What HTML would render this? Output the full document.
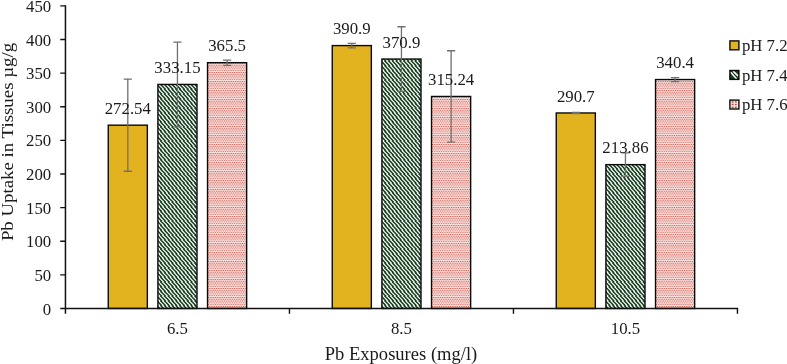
<!DOCTYPE html>
<html><head><meta charset="utf-8"><title>Pb Uptake in Tissues</title>
<style>
html,body{margin:0;padding:0;background:#fff;}
body{width:787px;height:364px;overflow:hidden;}
svg{display:block;}
text{font-family:"Liberation Serif","Times New Roman",serif;fill:#1a1a1a;}
</style></head><body>
<svg width="787" height="364" viewBox="0 0 787 364">
<defs>
<pattern id="hatch" width="38" height="47" patternUnits="userSpaceOnUse">
<rect width="38" height="47" fill="#ffffff"/><path d="M-7.60 0.00L-5.50 0.00L-0.80 4.70L-2.90 4.70ZM-3.80 0.00L-1.70 0.00L3.00 4.70L0.90 4.70ZM0.00 0.00L2.10 0.00L6.80 4.70L4.70 4.70ZM3.80 0.00L5.90 0.00L10.60 4.70L8.50 4.70ZM7.60 0.00L9.70 0.00L14.40 4.70L12.30 4.70ZM11.40 0.00L13.50 0.00L18.20 4.70L16.10 4.70ZM15.20 0.00L17.30 0.00L22.00 4.70L19.90 4.70ZM19.00 0.00L21.10 0.00L25.80 4.70L23.70 4.70ZM22.80 0.00L24.90 0.00L29.60 4.70L27.50 4.70ZM26.60 0.00L28.70 0.00L33.40 4.70L31.30 4.70ZM30.40 0.00L32.50 0.00L37.20 4.70L35.10 4.70ZM34.20 0.00L36.30 0.00L41.00 4.70L38.90 4.70ZM38.00 0.00L40.10 0.00L44.80 4.70L42.70 4.70ZM-7.60 4.70L-5.50 4.70L-0.80 9.40L-2.90 9.40ZM-3.80 4.70L-1.70 4.70L3.00 9.40L0.90 9.40ZM0.00 4.70L2.10 4.70L6.80 9.40L4.70 9.40ZM3.80 4.70L5.90 4.70L10.60 9.40L8.50 9.40ZM7.60 4.70L9.70 4.70L14.40 9.40L12.30 9.40ZM11.40 4.70L13.50 4.70L18.20 9.40L16.10 9.40ZM15.20 4.70L17.30 4.70L22.00 9.40L19.90 9.40ZM19.00 4.70L21.10 4.70L25.80 9.40L23.70 9.40ZM22.80 4.70L24.90 4.70L29.60 9.40L27.50 9.40ZM26.60 4.70L28.70 4.70L33.40 9.40L31.30 9.40ZM30.40 4.70L32.50 4.70L37.20 9.40L35.10 9.40ZM34.20 4.70L36.30 4.70L41.00 9.40L38.90 9.40ZM38.00 4.70L40.10 4.70L44.80 9.40L42.70 9.40ZM-7.60 9.40L-5.50 9.40L-0.80 14.10L-2.90 14.10ZM-3.80 9.40L-1.70 9.40L3.00 14.10L0.90 14.10ZM0.00 9.40L2.10 9.40L6.80 14.10L4.70 14.10ZM3.80 9.40L5.90 9.40L10.60 14.10L8.50 14.10ZM7.60 9.40L9.70 9.40L14.40 14.10L12.30 14.10ZM11.40 9.40L13.50 9.40L18.20 14.10L16.10 14.10ZM15.20 9.40L17.30 9.40L22.00 14.10L19.90 14.10ZM19.00 9.40L21.10 9.40L25.80 14.10L23.70 14.10ZM22.80 9.40L24.90 9.40L29.60 14.10L27.50 14.10ZM26.60 9.40L28.70 9.40L33.40 14.10L31.30 14.10ZM30.40 9.40L32.50 9.40L37.20 14.10L35.10 14.10ZM34.20 9.40L36.30 9.40L41.00 14.10L38.90 14.10ZM38.00 9.40L40.10 9.40L44.80 14.10L42.70 14.10ZM-7.60 14.10L-5.50 14.10L-0.80 18.80L-2.90 18.80ZM-3.80 14.10L-1.70 14.10L3.00 18.80L0.90 18.80ZM0.00 14.10L2.10 14.10L6.80 18.80L4.70 18.80ZM3.80 14.10L5.90 14.10L10.60 18.80L8.50 18.80ZM7.60 14.10L9.70 14.10L14.40 18.80L12.30 18.80ZM11.40 14.10L13.50 14.10L18.20 18.80L16.10 18.80ZM15.20 14.10L17.30 14.10L22.00 18.80L19.90 18.80ZM19.00 14.10L21.10 14.10L25.80 18.80L23.70 18.80ZM22.80 14.10L24.90 14.10L29.60 18.80L27.50 18.80ZM26.60 14.10L28.70 14.10L33.40 18.80L31.30 18.80ZM30.40 14.10L32.50 14.10L37.20 18.80L35.10 18.80ZM34.20 14.10L36.30 14.10L41.00 18.80L38.90 18.80ZM38.00 14.10L40.10 14.10L44.80 18.80L42.70 18.80ZM-7.60 18.80L-5.50 18.80L-0.80 23.50L-2.90 23.50ZM-3.80 18.80L-1.70 18.80L3.00 23.50L0.90 23.50ZM0.00 18.80L2.10 18.80L6.80 23.50L4.70 23.50ZM3.80 18.80L5.90 18.80L10.60 23.50L8.50 23.50ZM7.60 18.80L9.70 18.80L14.40 23.50L12.30 23.50ZM11.40 18.80L13.50 18.80L18.20 23.50L16.10 23.50ZM15.20 18.80L17.30 18.80L22.00 23.50L19.90 23.50ZM19.00 18.80L21.10 18.80L25.80 23.50L23.70 23.50ZM22.80 18.80L24.90 18.80L29.60 23.50L27.50 23.50ZM26.60 18.80L28.70 18.80L33.40 23.50L31.30 23.50ZM30.40 18.80L32.50 18.80L37.20 23.50L35.10 23.50ZM34.20 18.80L36.30 18.80L41.00 23.50L38.90 23.50ZM38.00 18.80L40.10 18.80L44.80 23.50L42.70 23.50ZM-7.60 23.50L-5.50 23.50L-0.80 28.20L-2.90 28.20ZM-3.80 23.50L-1.70 23.50L3.00 28.20L0.90 28.20ZM0.00 23.50L2.10 23.50L6.80 28.20L4.70 28.20ZM3.80 23.50L5.90 23.50L10.60 28.20L8.50 28.20ZM7.60 23.50L9.70 23.50L14.40 28.20L12.30 28.20ZM11.40 23.50L13.50 23.50L18.20 28.20L16.10 28.20ZM15.20 23.50L17.30 23.50L22.00 28.20L19.90 28.20ZM19.00 23.50L21.10 23.50L25.80 28.20L23.70 28.20ZM22.80 23.50L24.90 23.50L29.60 28.20L27.50 28.20ZM26.60 23.50L28.70 23.50L33.40 28.20L31.30 28.20ZM30.40 23.50L32.50 23.50L37.20 28.20L35.10 28.20ZM34.20 23.50L36.30 23.50L41.00 28.20L38.90 28.20ZM38.00 23.50L40.10 23.50L44.80 28.20L42.70 28.20ZM-7.60 28.20L-5.50 28.20L-0.80 32.90L-2.90 32.90ZM-3.80 28.20L-1.70 28.20L3.00 32.90L0.90 32.90ZM0.00 28.20L2.10 28.20L6.80 32.90L4.70 32.90ZM3.80 28.20L5.90 28.20L10.60 32.90L8.50 32.90ZM7.60 28.20L9.70 28.20L14.40 32.90L12.30 32.90ZM11.40 28.20L13.50 28.20L18.20 32.90L16.10 32.90ZM15.20 28.20L17.30 28.20L22.00 32.90L19.90 32.90ZM19.00 28.20L21.10 28.20L25.80 32.90L23.70 32.90ZM22.80 28.20L24.90 28.20L29.60 32.90L27.50 32.90ZM26.60 28.20L28.70 28.20L33.40 32.90L31.30 32.90ZM30.40 28.20L32.50 28.20L37.20 32.90L35.10 32.90ZM34.20 28.20L36.30 28.20L41.00 32.90L38.90 32.90ZM38.00 28.20L40.10 28.20L44.80 32.90L42.70 32.90ZM-7.60 32.90L-5.50 32.90L-0.80 37.60L-2.90 37.60ZM-3.80 32.90L-1.70 32.90L3.00 37.60L0.90 37.60ZM0.00 32.90L2.10 32.90L6.80 37.60L4.70 37.60ZM3.80 32.90L5.90 32.90L10.60 37.60L8.50 37.60ZM7.60 32.90L9.70 32.90L14.40 37.60L12.30 37.60ZM11.40 32.90L13.50 32.90L18.20 37.60L16.10 37.60ZM15.20 32.90L17.30 32.90L22.00 37.60L19.90 37.60ZM19.00 32.90L21.10 32.90L25.80 37.60L23.70 37.60ZM22.80 32.90L24.90 32.90L29.60 37.60L27.50 37.60ZM26.60 32.90L28.70 32.90L33.40 37.60L31.30 37.60ZM30.40 32.90L32.50 32.90L37.20 37.60L35.10 37.60ZM34.20 32.90L36.30 32.90L41.00 37.60L38.90 37.60ZM38.00 32.90L40.10 32.90L44.80 37.60L42.70 37.60ZM-7.60 37.60L-5.50 37.60L-0.80 42.30L-2.90 42.30ZM-3.80 37.60L-1.70 37.60L3.00 42.30L0.90 42.30ZM0.00 37.60L2.10 37.60L6.80 42.30L4.70 42.30ZM3.80 37.60L5.90 37.60L10.60 42.30L8.50 42.30ZM7.60 37.60L9.70 37.60L14.40 42.30L12.30 42.30ZM11.40 37.60L13.50 37.60L18.20 42.30L16.10 42.30ZM15.20 37.60L17.30 37.60L22.00 42.30L19.90 42.30ZM19.00 37.60L21.10 37.60L25.80 42.30L23.70 42.30ZM22.80 37.60L24.90 37.60L29.60 42.30L27.50 42.30ZM26.60 37.60L28.70 37.60L33.40 42.30L31.30 42.30ZM30.40 37.60L32.50 37.60L37.20 42.30L35.10 42.30ZM34.20 37.60L36.30 37.60L41.00 42.30L38.90 42.30ZM38.00 37.60L40.10 37.60L44.80 42.30L42.70 42.30ZM-7.60 42.30L-5.50 42.30L-0.80 47.00L-2.90 47.00ZM-3.80 42.30L-1.70 42.30L3.00 47.00L0.90 47.00ZM0.00 42.30L2.10 42.30L6.80 47.00L4.70 47.00ZM3.80 42.30L5.90 42.30L10.60 47.00L8.50 47.00ZM7.60 42.30L9.70 42.30L14.40 47.00L12.30 47.00ZM11.40 42.30L13.50 42.30L18.20 47.00L16.10 47.00ZM15.20 42.30L17.30 42.30L22.00 47.00L19.90 47.00ZM19.00 42.30L21.10 42.30L25.80 47.00L23.70 47.00ZM22.80 42.30L24.90 42.30L29.60 47.00L27.50 47.00ZM26.60 42.30L28.70 42.30L33.40 47.00L31.30 47.00ZM30.40 42.30L32.50 42.30L37.20 47.00L35.10 47.00ZM34.20 42.30L36.30 42.30L41.00 47.00L38.90 47.00ZM38.00 42.30L40.10 42.30L44.80 47.00L42.70 47.00Z" fill="#113c19"/>
</pattern>
<pattern id="dots" width="18" height="36" patternUnits="userSpaceOnUse">
<rect width="18" height="36" fill="#f9dfdc"/><path d="M0.00 0.00h.9v.9h-.9zM1.80 0.00h.9v.9h-.9zM3.60 0.00h.9v.9h-.9zM5.40 0.00h.9v.9h-.9zM7.20 0.00h.9v.9h-.9zM9.00 0.00h.9v.9h-.9zM10.80 0.00h.9v.9h-.9zM12.60 0.00h.9v.9h-.9zM14.40 0.00h.9v.9h-.9zM16.20 0.00h.9v.9h-.9zM0.90 1.80h.9v.9h-.9zM2.70 1.80h.9v.9h-.9zM4.50 1.80h.9v.9h-.9zM6.30 1.80h.9v.9h-.9zM8.10 1.80h.9v.9h-.9zM9.90 1.80h.9v.9h-.9zM11.70 1.80h.9v.9h-.9zM13.50 1.80h.9v.9h-.9zM15.30 1.80h.9v.9h-.9zM17.10 1.80h.9v.9h-.9zM0.00 3.60h.9v.9h-.9zM1.80 3.60h.9v.9h-.9zM3.60 3.60h.9v.9h-.9zM5.40 3.60h.9v.9h-.9zM7.20 3.60h.9v.9h-.9zM9.00 3.60h.9v.9h-.9zM10.80 3.60h.9v.9h-.9zM12.60 3.60h.9v.9h-.9zM14.40 3.60h.9v.9h-.9zM16.20 3.60h.9v.9h-.9zM0.90 5.40h.9v.9h-.9zM2.70 5.40h.9v.9h-.9zM4.50 5.40h.9v.9h-.9zM6.30 5.40h.9v.9h-.9zM8.10 5.40h.9v.9h-.9zM9.90 5.40h.9v.9h-.9zM11.70 5.40h.9v.9h-.9zM13.50 5.40h.9v.9h-.9zM15.30 5.40h.9v.9h-.9zM17.10 5.40h.9v.9h-.9zM0.00 7.20h.9v.9h-.9zM1.80 7.20h.9v.9h-.9zM3.60 7.20h.9v.9h-.9zM5.40 7.20h.9v.9h-.9zM7.20 7.20h.9v.9h-.9zM9.00 7.20h.9v.9h-.9zM10.80 7.20h.9v.9h-.9zM12.60 7.20h.9v.9h-.9zM14.40 7.20h.9v.9h-.9zM16.20 7.20h.9v.9h-.9zM0.90 9.00h.9v.9h-.9zM2.70 9.00h.9v.9h-.9zM4.50 9.00h.9v.9h-.9zM6.30 9.00h.9v.9h-.9zM8.10 9.00h.9v.9h-.9zM9.90 9.00h.9v.9h-.9zM11.70 9.00h.9v.9h-.9zM13.50 9.00h.9v.9h-.9zM15.30 9.00h.9v.9h-.9zM17.10 9.00h.9v.9h-.9zM0.00 10.80h.9v.9h-.9zM1.80 10.80h.9v.9h-.9zM3.60 10.80h.9v.9h-.9zM5.40 10.80h.9v.9h-.9zM7.20 10.80h.9v.9h-.9zM9.00 10.80h.9v.9h-.9zM10.80 10.80h.9v.9h-.9zM12.60 10.80h.9v.9h-.9zM14.40 10.80h.9v.9h-.9zM16.20 10.80h.9v.9h-.9zM0.90 12.60h.9v.9h-.9zM2.70 12.60h.9v.9h-.9zM4.50 12.60h.9v.9h-.9zM6.30 12.60h.9v.9h-.9zM8.10 12.60h.9v.9h-.9zM9.90 12.60h.9v.9h-.9zM11.70 12.60h.9v.9h-.9zM13.50 12.60h.9v.9h-.9zM15.30 12.60h.9v.9h-.9zM17.10 12.60h.9v.9h-.9zM0.00 14.40h.9v.9h-.9zM1.80 14.40h.9v.9h-.9zM3.60 14.40h.9v.9h-.9zM5.40 14.40h.9v.9h-.9zM7.20 14.40h.9v.9h-.9zM9.00 14.40h.9v.9h-.9zM10.80 14.40h.9v.9h-.9zM12.60 14.40h.9v.9h-.9zM14.40 14.40h.9v.9h-.9zM16.20 14.40h.9v.9h-.9zM0.90 16.20h.9v.9h-.9zM2.70 16.20h.9v.9h-.9zM4.50 16.20h.9v.9h-.9zM6.30 16.20h.9v.9h-.9zM8.10 16.20h.9v.9h-.9zM9.90 16.20h.9v.9h-.9zM11.70 16.20h.9v.9h-.9zM13.50 16.20h.9v.9h-.9zM15.30 16.20h.9v.9h-.9zM17.10 16.20h.9v.9h-.9zM0.00 18.00h.9v.9h-.9zM1.80 18.00h.9v.9h-.9zM3.60 18.00h.9v.9h-.9zM5.40 18.00h.9v.9h-.9zM7.20 18.00h.9v.9h-.9zM9.00 18.00h.9v.9h-.9zM10.80 18.00h.9v.9h-.9zM12.60 18.00h.9v.9h-.9zM14.40 18.00h.9v.9h-.9zM16.20 18.00h.9v.9h-.9zM0.90 19.80h.9v.9h-.9zM2.70 19.80h.9v.9h-.9zM4.50 19.80h.9v.9h-.9zM6.30 19.80h.9v.9h-.9zM8.10 19.80h.9v.9h-.9zM9.90 19.80h.9v.9h-.9zM11.70 19.80h.9v.9h-.9zM13.50 19.80h.9v.9h-.9zM15.30 19.80h.9v.9h-.9zM17.10 19.80h.9v.9h-.9zM0.00 21.60h.9v.9h-.9zM1.80 21.60h.9v.9h-.9zM3.60 21.60h.9v.9h-.9zM5.40 21.60h.9v.9h-.9zM7.20 21.60h.9v.9h-.9zM9.00 21.60h.9v.9h-.9zM10.80 21.60h.9v.9h-.9zM12.60 21.60h.9v.9h-.9zM14.40 21.60h.9v.9h-.9zM16.20 21.60h.9v.9h-.9zM0.90 23.40h.9v.9h-.9zM2.70 23.40h.9v.9h-.9zM4.50 23.40h.9v.9h-.9zM6.30 23.40h.9v.9h-.9zM8.10 23.40h.9v.9h-.9zM9.90 23.40h.9v.9h-.9zM11.70 23.40h.9v.9h-.9zM13.50 23.40h.9v.9h-.9zM15.30 23.40h.9v.9h-.9zM17.10 23.40h.9v.9h-.9zM0.00 25.20h.9v.9h-.9zM1.80 25.20h.9v.9h-.9zM3.60 25.20h.9v.9h-.9zM5.40 25.20h.9v.9h-.9zM7.20 25.20h.9v.9h-.9zM9.00 25.20h.9v.9h-.9zM10.80 25.20h.9v.9h-.9zM12.60 25.20h.9v.9h-.9zM14.40 25.20h.9v.9h-.9zM16.20 25.20h.9v.9h-.9zM0.90 27.00h.9v.9h-.9zM2.70 27.00h.9v.9h-.9zM4.50 27.00h.9v.9h-.9zM6.30 27.00h.9v.9h-.9zM8.10 27.00h.9v.9h-.9zM9.90 27.00h.9v.9h-.9zM11.70 27.00h.9v.9h-.9zM13.50 27.00h.9v.9h-.9zM15.30 27.00h.9v.9h-.9zM17.10 27.00h.9v.9h-.9zM0.00 28.80h.9v.9h-.9zM1.80 28.80h.9v.9h-.9zM3.60 28.80h.9v.9h-.9zM5.40 28.80h.9v.9h-.9zM7.20 28.80h.9v.9h-.9zM9.00 28.80h.9v.9h-.9zM10.80 28.80h.9v.9h-.9zM12.60 28.80h.9v.9h-.9zM14.40 28.80h.9v.9h-.9zM16.20 28.80h.9v.9h-.9zM0.90 30.60h.9v.9h-.9zM2.70 30.60h.9v.9h-.9zM4.50 30.60h.9v.9h-.9zM6.30 30.60h.9v.9h-.9zM8.10 30.60h.9v.9h-.9zM9.90 30.60h.9v.9h-.9zM11.70 30.60h.9v.9h-.9zM13.50 30.60h.9v.9h-.9zM15.30 30.60h.9v.9h-.9zM17.10 30.60h.9v.9h-.9zM0.00 32.40h.9v.9h-.9zM1.80 32.40h.9v.9h-.9zM3.60 32.40h.9v.9h-.9zM5.40 32.40h.9v.9h-.9zM7.20 32.40h.9v.9h-.9zM9.00 32.40h.9v.9h-.9zM10.80 32.40h.9v.9h-.9zM12.60 32.40h.9v.9h-.9zM14.40 32.40h.9v.9h-.9zM16.20 32.40h.9v.9h-.9zM0.90 34.20h.9v.9h-.9zM2.70 34.20h.9v.9h-.9zM4.50 34.20h.9v.9h-.9zM6.30 34.20h.9v.9h-.9zM8.10 34.20h.9v.9h-.9zM9.90 34.20h.9v.9h-.9zM11.70 34.20h.9v.9h-.9zM13.50 34.20h.9v.9h-.9zM15.30 34.20h.9v.9h-.9zM17.10 34.20h.9v.9h-.9z" fill="#cf4f43"/>
</pattern>
</defs>
<rect width="787" height="364" fill="#ffffff"/>

<rect x="108.25" y="125.18" width="39.10" height="183.27" fill="#E2B31F" stroke="#0a0a0a" stroke-width="1.4"/>
<rect x="157.90" y="84.43" width="39.10" height="224.02" fill="url(#hatch)" stroke="#0a0a0a" stroke-width="1.4"/>
<rect x="207.55" y="62.67" width="39.10" height="245.78" fill="url(#dots)" stroke="#0a0a0a" stroke-width="1.4"/>
<rect x="332.25" y="45.59" width="39.10" height="262.86" fill="#E2B31F" stroke="#0a0a0a" stroke-width="1.4"/>
<rect x="381.90" y="59.04" width="39.10" height="249.41" fill="url(#hatch)" stroke="#0a0a0a" stroke-width="1.4"/>
<rect x="431.55" y="96.47" width="39.10" height="211.98" fill="url(#dots)" stroke="#0a0a0a" stroke-width="1.4"/>
<rect x="556.25" y="112.97" width="39.10" height="195.48" fill="#E2B31F" stroke="#0a0a0a" stroke-width="1.4"/>
<rect x="605.90" y="164.64" width="39.10" height="143.81" fill="url(#hatch)" stroke="#0a0a0a" stroke-width="1.4"/>
<rect x="655.55" y="79.55" width="39.10" height="228.90" fill="url(#dots)" stroke="#0a0a0a" stroke-width="1.4"/>
<path d="M127.80 79.12V171.24M123.70 79.12H131.90M123.70 171.24H131.90" fill="none" stroke="#707070" stroke-width="1.3"/>
<path d="M177.45 42.06V126.79M173.35 42.06H181.55M173.35 126.79H181.55" fill="none" stroke="#707070" stroke-width="1.3"/>
<path d="M227.10 60.05V65.29M223.00 60.05H231.20M223.00 65.29H231.20" fill="none" stroke="#707070" stroke-width="1.3"/>
<path d="M351.80 43.37V47.81M347.70 43.37H355.90M347.70 47.81H355.90" fill="none" stroke="#707070" stroke-width="1.3"/>
<path d="M401.45 26.76V91.32M397.35 26.76H405.55M397.35 91.32H405.55" fill="none" stroke="#707070" stroke-width="1.3"/>
<path d="M451.10 50.74V142.19M447.00 50.74H455.20M447.00 142.19H455.20" fill="none" stroke="#707070" stroke-width="1.3"/>
<path d="M575.80 112.30V113.64M571.70 112.30H579.90M571.70 113.64H579.90" fill="none" stroke="#707070" stroke-width="1.3"/>
<path d="M625.45 152.87V176.41M621.35 152.87H629.55M621.35 176.41H629.55" fill="none" stroke="#707070" stroke-width="1.3"/>
<path d="M675.10 77.53V81.57M671.00 77.53H679.20M671.00 81.57H679.20" fill="none" stroke="#707070" stroke-width="1.3"/>
<path d="M65.45 5.1499999999999995V313.65" stroke="#111" stroke-width="1.5" fill="none"/>
<path d="M60.25 308.45H738.15" stroke="#111" stroke-width="1.5" fill="none"/>
<path d="M60.25 274.83H65.45M60.25 241.21H65.45M60.25 207.58H65.45M60.25 173.96H65.45M60.25 140.34H65.45M60.25 106.72H65.45M60.25 73.09H65.45M60.25 39.47H65.45M60.25 5.85H65.45M289.45 308.45V313.65M513.45 308.45V313.65M737.45 308.45V313.65" stroke="#111" stroke-width="1.4" fill="none"/>
<text transform="translate(51.20 314.55) scale(1 1.05)" font-size="16.8" text-anchor="end">0</text>
<text transform="translate(51.20 280.93) scale(1 1.05)" font-size="16.8" text-anchor="end">50</text>
<text transform="translate(51.20 247.31) scale(1 1.05)" font-size="16.8" text-anchor="end">100</text>
<text transform="translate(51.20 213.68) scale(1 1.05)" font-size="16.8" text-anchor="end">150</text>
<text transform="translate(51.20 180.06) scale(1 1.05)" font-size="16.8" text-anchor="end">200</text>
<text transform="translate(51.20 146.44) scale(1 1.05)" font-size="16.8" text-anchor="end">250</text>
<text transform="translate(51.20 112.82) scale(1 1.05)" font-size="16.8" text-anchor="end">300</text>
<text transform="translate(51.20 79.19) scale(1 1.05)" font-size="16.8" text-anchor="end">350</text>
<text transform="translate(51.20 45.57) scale(1 1.05)" font-size="16.8" text-anchor="end">400</text>
<text transform="translate(51.20 11.95) scale(1 1.05)" font-size="16.8" text-anchor="end">450</text>
<text transform="translate(177.45 333.60) scale(1 1.05)" font-size="16.8" text-anchor="middle">6.5</text>
<text transform="translate(401.45 333.60) scale(1 1.05)" font-size="16.8" text-anchor="middle">8.5</text>
<text transform="translate(625.45 333.60) scale(1 1.05)" font-size="16.8" text-anchor="middle">10.5</text>
<text transform="translate(127.80 113.88) scale(1 1.05)" font-size="16.8" text-anchor="middle">272.54</text>
<text transform="translate(177.45 73.13) scale(1 1.05)" font-size="16.8" text-anchor="middle">333.15</text>
<text transform="translate(227.10 51.37) scale(1 1.05)" font-size="16.8" text-anchor="middle">365.5</text>
<text transform="translate(351.80 34.29) scale(1 1.05)" font-size="16.8" text-anchor="middle">390.9</text>
<text transform="translate(401.45 47.74) scale(1 1.05)" font-size="16.8" text-anchor="middle">370.9</text>
<text transform="translate(451.10 85.17) scale(1 1.05)" font-size="16.8" text-anchor="middle">315.24</text>
<text transform="translate(575.80 101.67) scale(1 1.05)" font-size="16.8" text-anchor="middle">290.7</text>
<text transform="translate(625.45 153.34) scale(1 1.05)" font-size="16.8" text-anchor="middle">213.86</text>
<text transform="translate(675.10 68.25) scale(1 1.05)" font-size="16.8" text-anchor="middle">340.4</text>
<text transform="translate(401.00 359.80) scale(1 0.985)" font-size="18.55" text-anchor="middle">Pb Exposures (mg/l)</text>
<text transform="translate(13.40 142.00) rotate(-90) scale(1 0.94)" font-size="18.85" text-anchor="middle">Pb Uptake in Tissues µg/g</text>
<rect x="729.9" y="40.90" width="9.0" height="8.9" fill="#E2B31F"/>
<rect x="729.9" y="40.90" width="9.0" height="8.9" fill="none" stroke="#0a0a0a" stroke-width="1.4"/>
<text transform="translate(741.90 51.20) scale(1 1.05)" font-size="16.8">pH 7.2</text>
<rect x="729.9" y="70.50" width="9.0" height="8.9" fill="#123f1b"/>
<path d="M730.40 72.10L736.70 79.00M733.10 71.10L738.30 76.10" stroke="#ffffff" stroke-width="1.5" fill="none"/>
<rect x="729.9" y="70.50" width="9.0" height="8.9" fill="none" stroke="#0a0a0a" stroke-width="1.4"/>
<text transform="translate(741.90 80.80) scale(1 1.05)" font-size="16.8">pH 7.4</text>
<rect x="729.9" y="100.10" width="9.0" height="8.9" fill="#fdf3f1"/>
<path d="M731.60 101.20h2.0v1.5h-2.0zM734.80 101.20h2.0v1.5h-2.0zM731.60 103.80h2.0v1.5h-2.0zM734.80 103.80h2.0v1.5h-2.0zM731.60 106.40h2.0v1.5h-2.0zM734.80 106.40h2.0v1.5h-2.0z" fill="#cf4a3d"/>
<rect x="729.9" y="100.10" width="9.0" height="8.9" fill="none" stroke="#0a0a0a" stroke-width="1.4"/>
<text transform="translate(741.90 110.40) scale(1 1.05)" font-size="16.8">pH 7.6</text>
</svg>
</body></html>
